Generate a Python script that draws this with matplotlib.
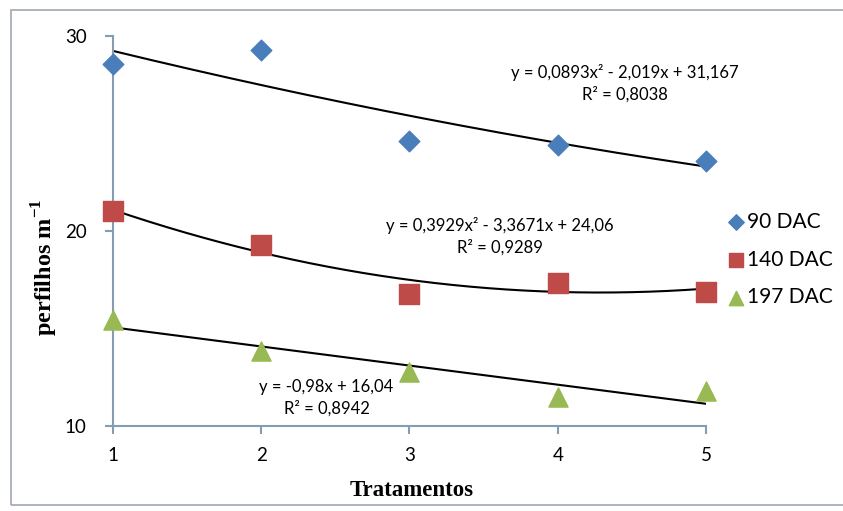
import numpy as np
import matplotlib
matplotlib.use('Agg')
import matplotlib.pyplot as plt
from matplotlib.patches import Rectangle

# data
tratamentos = [1, 2, 3, 4, 5]
dac90 = [28.56, 29.28, 24.62, 24.41, 23.59]
dac140 = [21.03, 19.28, 16.77, 17.33, 16.87]
dac197 = [15.44, 13.85, 12.77, 11.49, 11.80]

# trendline coefficients as printed on the chart (highest power first)
coef90 = [0.0893, -2.019, 31.167]
coef140 = [0.3929, -3.3671, 24.06]
coef197 = [-0.98, 16.04]

eq90 = 'y = 0,0893x² - 2,019x + 31,167\nR² = 0,8038'
eq140 = 'y = 0,3929x² - 3,3671x + 24,06\nR² = 0,9289'
eq197 = 'y = -0,98x + 16,04\nR² = 0,8942'

plt.rcParams['mathtext.fontset'] = 'custom'
plt.rcParams['mathtext.rm'] = 'Liberation Serif'
plt.rcParams['mathtext.bf'] = 'Liberation Serif:bold'

fig = plt.figure(figsize=(8.43, 5.11), dpi=100)
ax = fig.add_axes([0.134, 0.1663, 0.7035, 0.7632])

# outer chart border
fig.patches.append(Rectangle((0.013, 0.012), 1.2, 0.968, transform=fig.transFigure,
                             fill=False, edgecolor='#a0a8b0', linewidth=1.2))

xs = np.linspace(1, 5, 200)
ax.plot(xs, np.polyval(coef90, xs), color='black', lw=1.5, zorder=2)
ax.plot(xs, np.polyval(coef140, xs), color='black', lw=1.5, zorder=2)
ax.plot(xs, np.polyval(coef197, xs), color='black', lw=1.5, zorder=2)

ax.scatter(tratamentos, dac90, marker='D', s=110, color='#4a7ebb', label='90 DAC', zorder=3, clip_on=False)
ax.scatter(tratamentos, dac140, marker='s', s=190, color='#be4b48', label='140 DAC', zorder=3, clip_on=False)
ax.scatter(tratamentos, dac197, marker='^', s=190, color='#98b954', label='197 DAC', zorder=3, clip_on=False)

ax.set_xlim(1, 5)
ax.set_ylim(10, 30)
ax.set_xticks([1, 2, 3, 4, 5])
ax.set_yticks([10, 20, 30])

for s in ['top', 'right']:
    ax.spines[s].set_visible(False)
for s in ['left', 'bottom']:
    ax.spines[s].set_color('#869cb0')
    ax.spines[s].set_linewidth(1.5)
ax.tick_params(direction='out', length=6, width=1.5, color='#869cb0', labelsize=13.5)
ax.tick_params(axis='y', pad=13)
ax.tick_params(axis='x', pad=9)
for lbl in ax.get_xticklabels() + ax.get_yticklabels():
    lbl.set_fontfamily('Lato')

fig.text(412 / 843, 1 - 490 / 511, 'Tratamentos', ha='center', va='center',
         fontfamily='Liberation Serif', fontweight='bold', fontsize=16.5)
fig.text(45 / 843, 1 - 267 / 511, r'perfilhos m$^{\mathbf{-1}}$', ha='center', va='center',
         rotation=90, fontfamily='Liberation Serif', fontweight='bold', fontsize=17.5)

ax.text(4.45, 27.56, eq90, ha='center', va='center', fontsize=12, fontfamily='Lato', linespacing=1.38)
ax.text(3.61, 19.72, eq140, ha='center', va='center', fontsize=12, fontfamily='Lato', linespacing=1.38)
ax.text(2.44, 11.44, eq197, ha='center', va='center', fontsize=12, fontfamily='Lato', linespacing=1.38)

ax.legend(loc='center left', bbox_to_anchor=(0.861, 0.492), bbox_transform=fig.transFigure,
          frameon=False, prop={'family': 'Lato', 'size': 15}, handletextpad=0.0,
          handlelength=1.0, borderpad=0, labelspacing=0.85, scatterpoints=1,
          markerscale=0.75, borderaxespad=0)

plt.savefig('out.png', dpi=100)
